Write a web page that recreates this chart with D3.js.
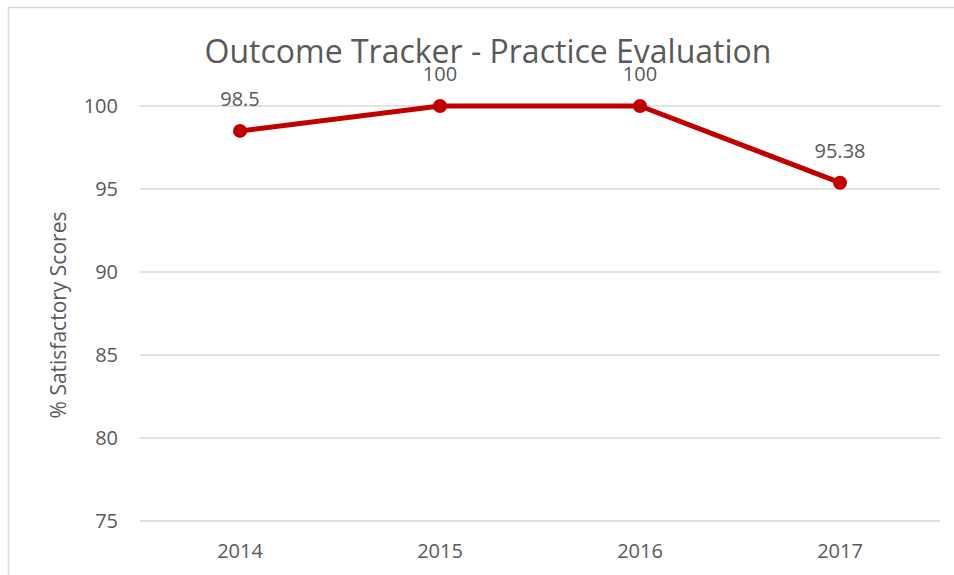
<!DOCTYPE html>
<html><head><meta charset="utf-8">
<script src="https://cdn.jsdelivr.net/npm/d3@7"></script>
<style>body{margin:0;background:#fff}svg{display:block}</style>
</head><body>
<svg id="c" width="954" height="575"></svg>
<script>
const categories = ["2014","2015","2016","2017"];
const values = [98.5, 100, 100, 95.38];
const valueLabels = ["98.5","100","100","95.38"];
const yTicks = [75, 80, 85, 90, 95, 100];
const title = "Outcome Tracker - Practice Evaluation";
const yTitle = "% Satisfactory Scores";

(function(){
const svg = d3.select("#c");
const font = "'Open Sans', sans-serif";
const txt = "#595959";

svg.append("rect").attr("x",8.5).attr("y",7.5).attr("width",960).attr("height",600)
  .attr("fill","#fff").attr("stroke","#d9d9d9").attr("stroke-width",1.5);

const pLeft=140, pRight=940, pTop=106, pBottom=521;
const x = d3.scaleBand().domain(categories).range([pLeft,pRight]);
const y = d3.scaleLinear().domain([75,100]).range([pBottom,pTop]);

svg.append("g").selectAll("line").data(yTicks).join("line")
  .attr("x1",pLeft).attr("x2",pRight).attr("y1",d=>y(d)).attr("y2",d=>y(d))
  .attr("stroke","#d9d9d9").attr("stroke-width",1.5);

const ya = svg.append("g").attr("transform",`translate(${pLeft-22},0)`)
  .call(d3.axisLeft(y).tickValues(yTicks).tickSize(0).tickPadding(0));
ya.select(".domain").remove();
ya.selectAll("text").attr("font-family",font).attr("font-size",20).attr("fill",txt);

const xa = svg.append("g").attr("transform",`translate(0,${pBottom+23})`)
  .call(d3.axisBottom(x).tickSize(0).tickPadding(0));
xa.select(".domain").remove();
xa.selectAll("text").attr("font-family",font).attr("font-size",20).attr("fill",txt);

svg.append("text").attr("x",488).attr("y",63).attr("text-anchor","middle")
  .attr("font-family",font).attr("font-size",32).attr("fill",txt).text(title);

svg.append("text").attr("transform","translate(66,315) rotate(-90)")
  .attr("text-anchor","middle").attr("font-family",font).attr("font-size",21)
  .attr("fill",txt).text(yTitle);

const cx = d => x(d)+x.bandwidth()/2;
const line = d3.line().x((d,i)=>cx(categories[i])).y(d=>y(d));
svg.append("path").datum(values).attr("d",line).attr("fill","none")
  .attr("stroke","#C00000").attr("stroke-width",5).attr("stroke-linejoin","round");
svg.append("g").selectAll("circle").data(values).join("circle")
  .attr("cx",(d,i)=>cx(categories[i])).attr("cy",d=>y(d)).attr("r",7).attr("fill","#C00000");

svg.append("g").selectAll("text").data(values).join("text")
  .attr("x",(d,i)=>cx(categories[i])).attr("y",d=>y(d)-25)
  .attr("text-anchor","middle").attr("font-family",font).attr("font-size",20).attr("fill",txt)
  .text((d,i)=>valueLabels[i]);
})();
</script>
</body></html>
